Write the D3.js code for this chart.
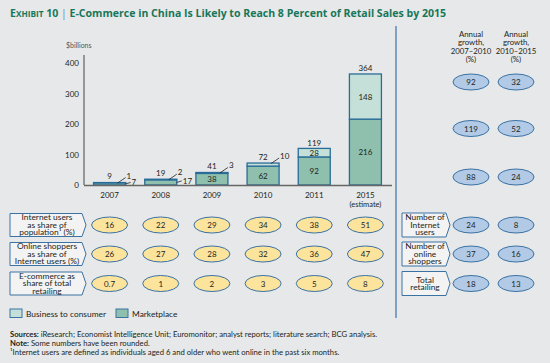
<!DOCTYPE html>
<html>
<head>
<meta charset="utf-8">
<script src="https://cdn.jsdelivr.net/npm/d3@7"></script>
<style>
  html, body { margin: 0; padding: 0; background: #e7e8e9; }
  svg { display: block; font-family: Lato, "Noto Sans", sans-serif; }
</style>
</head>
<body>
<svg id="chart" width="550" height="363"></svg>
<script>
const years = ['2007', '2008', '2009', '2010', '2011', '2015'];
const yearNotes = ['', '', '', '', '', '(estimate)'];
const marketplace = [7, 17, 38, 62, 92, 216];
const b2c = [1, 2, 3, 10, 28, 148];
const totals = [9, 19, 41, 72, 119, 364];
const yTicks = [0, 100, 200, 300, 400];

const rowLabels = [
  ['Internet users', 'as share of', 'population¹ (%)'],
  ['Online shoppers', 'as share of', 'Internet users (%)'],
  ['E-commerce as', 'share of total', 'retailing']
];
const internetShare = ['16', '22', '29', '34', '38', '51'];
const shopperShare = ['26', '27', '28', '32', '36', '47'];
const ecomShare = ['0.7', '1', '2', '3', '5', '8'];

const growthHeaders = [
  ['Annual', 'growth,', '2007–2010', '(%)'],
  ['Annual', 'growth,', '2010–2015', '(%)']
];
const growth0710 = ['92', '119', '88', '24', '37', '18'];
const growth1015 = ['32', '52', '24', '8', '16', '13'];
const growthLabels = [
  ['Number of', 'Internet', 'users'],
  ['Number of', 'online', 'shoppers'],
  ['Total', 'retailing']
];

const legendItems = ['Business to consumer', 'Marketplace'];

// colours
const C = {
  title: '#17775a',
  b2c: '#c4e0d8',
  mkt: '#8ec0ad',
  barLine: '#2a6c98',
  oval: '#fde49d',
  ovalBlue: '#b2cae6',
  line: '#3a72a4',
  text: '#231f20',
  box: '#f3f3f4'
};

const svg = d3.select('#chart');

// title, stretched to the width it has in the exhibit
const title = svg.append('text').attr('x', 10).attr('y', 17)
  .attr('fill', C.title).attr('font-weight', 700)
  .style('font-family', '"Open Sans", "Noto Sans", sans-serif');
title.append('tspan').text('E');
const smallCaps = title.append('tspan').text('XHIBIT');
title.append('tspan').text(' 10 ');
title.append('tspan').attr('font-weight', 400).attr('fill', '#6a8f85').text('|');
title.append('tspan').text(' E-Commerce in China Is Likely to Reach 8 Percent of Retail Sales by 2015');
let fs = 10.6;
title.attr('font-size', fs); smallCaps.attr('font-size', fs * 0.78);
const tw = title.node().getComputedTextLength();
fs = fs * Math.max(0.8, Math.min(1.3, 436 / tw));
title.attr('font-size', fs); smallCaps.attr('font-size', fs * 0.78);

// scales
const x = d3.scalePoint().domain(years).range([84, 391]).padding(0.5);
const y = d3.scaleLinear().domain([0, 400]).range([185, 63]);
const bw = 32;

// y axis
svg.append('text').attr('x', 66).attr('y', 48).attr('font-size', 7)
  .attr('fill', '#555').text('$billions');
svg.append('line').attr('x1', 84).attr('x2', 84).attr('y1', 55).attr('y2', 185)
  .attr('stroke', '#444').attr('stroke-width', 1);
svg.append('g').selectAll('text').data(yTicks).join('text')
  .attr('x', 79).attr('y', d => y(d) + 3)
  .attr('text-anchor', 'end').attr('font-size', 8).attr('fill', C.text)
  .text(d => d);

// bars
const bars = svg.append('g').selectAll('g').data(years).join('g');
bars.append('rect')
  .attr('x', d => x(d) - bw / 2).attr('width', bw)
  .attr('y', (d, i) => y(marketplace[i])).attr('height', (d, i) => y(0) - y(marketplace[i]))
  .attr('fill', C.mkt).attr('stroke', C.barLine).attr('stroke-width', 1.3);
bars.append('rect')
  .attr('x', d => x(d) - bw / 2).attr('width', bw)
  .attr('y', (d, i) => y(marketplace[i] + b2c[i]))
  .attr('height', (d, i) => y(marketplace[i]) - y(marketplace[i] + b2c[i]))
  .attr('fill', C.b2c).attr('stroke', C.barLine).attr('stroke-width', 1.3);

// baseline
svg.append('line').attr('x1', 84).attr('x2', 392).attr('y1', 185.5).attr('y2', 185.5)
  .attr('stroke', '#666').attr('stroke-width', 1.5);

// bar labels
bars.each(function(d, i) {
  const g = d3.select(this);
  const cx = x(d);
  const top = y(marketplace[i] + b2c[i]);
  const mid = y(marketplace[i]);
  g.append('text').attr('x', cx).attr('y', y(totals[i]) - 3)
    .attr('text-anchor', 'middle').attr('font-size', 8).attr('fill', C.text).text(totals[i]);
  // business to consumer
  if (b2c[i] < 15) {
    g.append('line').attr('x1', cx + 8).attr('y1', top + 0.5)
      .attr('x2', cx + 16).attr('y2', top - 5)
      .attr('stroke', C.text).attr('stroke-width', 0.8);
    g.append('text').attr('x', cx + 17).attr('y', top - 4)
      .attr('font-size', 8).attr('fill', C.text).text(b2c[i]);
  } else {
    g.append('text').attr('x', cx).attr('y', (top + mid) / 2 + 3)
      .attr('text-anchor', 'middle').attr('font-size', 8).attr('fill', C.text).text(b2c[i]);
  }
  // marketplace
  if (marketplace[i] < 20) {
    const my = (mid + y(0)) / 2;
    g.append('line').attr('x1', cx + bw / 2).attr('y1', my)
      .attr('x2', cx + 21).attr('y2', my - 1.5)
      .attr('stroke', C.text).attr('stroke-width', 0.8);
    g.append('text').attr('x', cx + 22).attr('y', my + 1.5)
      .attr('font-size', 8).attr('fill', C.text).text(marketplace[i]);
  } else {
    g.append('text').attr('x', cx).attr('y', (mid + y(0)) / 2 + 3)
      .attr('text-anchor', 'middle').attr('font-size', 8).attr('fill', C.text).text(marketplace[i]);
  }
});

// year labels
svg.append('g').selectAll('text').data(years).join('text')
  .attr('x', d => x(d)).attr('y', 198)
  .attr('text-anchor', 'middle').attr('font-size', 8).attr('fill', C.text)
  .text(d => d);
svg.append('g').selectAll('text').data(years).join('text')
  .attr('x', d => x(d)).attr('y', 207)
  .attr('text-anchor', 'middle').attr('font-size', 7.5).attr('fill', C.text)
  .text((d, i) => yearNotes[i]);

// arrow-shaped label boxes
function labelBox(g, x0, x1, yc, h, lines) {
  const y0 = yc - h / 2, y1 = yc + h / 2;
  g.append('path')
    .attr('d', `M${x0},${y0}H${x1}L${x1 + 4},${yc}L${x1},${y1}H${x0}Z`)
    .attr('fill', C.box).attr('stroke', C.line).attr('stroke-width', 1);
  const lh = 7.6;
  g.append('g').selectAll('text').data(lines).join('text')
    .attr('x', (x0 + x1) / 2 + 1)
    .attr('y', (d, k) => yc + (k - (lines.length - 1) / 2) * lh + 2.8)
    .attr('text-anchor', 'middle').attr('font-size', 8.4).attr('fill', C.text)
    .text(d => d);
}

function ovals(g, cxs, cy, values, fill) {
  g.selectAll('ellipse').data(values).join('ellipse')
    .attr('cx', (d, i) => cxs[i]).attr('cy', cy).attr('rx', 18).attr('ry', 8)
    .attr('fill', fill).attr('stroke', C.line).attr('stroke-width', 1);
  g.selectAll('text').data(values).join('text')
    .attr('x', (d, i) => cxs[i]).attr('y', cy + 3)
    .attr('text-anchor', 'middle').attr('font-size', 8).attr('fill', C.text)
    .text(d => d);
}

const rowY = [225, 254, 283.5];
const rowValues = [internetShare, shopperShare, ecomShare];
rowValues.forEach((vals, r) => {
  labelBox(svg.append('g'), 10, 82, rowY[r], 23, rowLabels[r]);
  ovals(svg.append('g'), years.map(d => x(d)), rowY[r], vals, C.oval);
});

// divider
svg.append('line').attr('x1', 396).attr('x2', 396).attr('y1', 26).attr('y2', 318)
  .attr('stroke', C.line).attr('stroke-width', 1.2);

// growth panel
const gx = [471, 516];
growthHeaders.forEach((lines, c) => {
  svg.append('g').selectAll('text').data(lines).join('text')
    .attr('x', gx[c]).attr('y', (d, k) => 37 + k * 8.4)
    .attr('text-anchor', 'middle').attr('font-size', 7.8).attr('fill', C.text)
    .text(d => d);
});
const growthY = [82, 128.5, 177, 225, 254, 283.5];
growthY.forEach((cy, r) => {
  ovals(svg.append('g'), gx, cy, [growth0710[r], growth1015[r]], C.ovalBlue);
});
growthLabels.forEach((lines, r) => {
  labelBox(svg.append('g'), 402, 446, growthY[r + 3], 24, lines);
});

// legend
const legend = svg.append('g');
const legendX = [10, 116];
const legendFill = [C.b2c, C.mkt];
legendItems.forEach((name, k) => {
  legend.append('rect').attr('x', legendX[k]).attr('y', 309).attr('width', 12).attr('height', 8.5)
    .attr('fill', legendFill[k]).attr('stroke', C.line).attr('stroke-width', 1);
  legend.append('text').attr('x', legendX[k] + 16).attr('y', 316.5)
    .attr('font-size', 8.4).attr('fill', C.text).text(name);
});

// footnotes
const notes = svg.append('g').attr('font-size', 7.7).attr('fill', C.text);
const n1 = notes.append('text').attr('x', 10).attr('y', 336.5);
n1.append('tspan').attr('font-weight', 700).text('Sources: ');
n1.append('tspan').text('iResearch; Economist Intelligence Unit; Euromonitor; analyst reports; literature search; BCG analysis.');
const n2 = notes.append('text').attr('x', 10).attr('y', 345.5);
n2.append('tspan').attr('font-weight', 700).text('Note: ');
n2.append('tspan').text('Some numbers have been rounded.');
notes.append('text').attr('x', 10).attr('y', 354.5)
  .text('¹Internet users are defined as individuals aged 6 and older who went online in the past six months.');
</script>
</body>
</html>
